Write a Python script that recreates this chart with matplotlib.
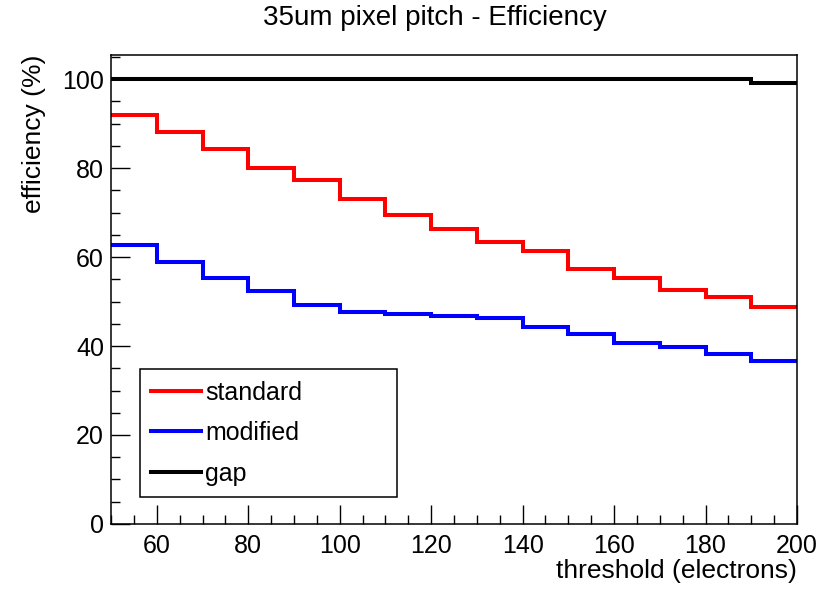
import matplotlib
matplotlib.use("Agg")
import matplotlib.pyplot as plt
import numpy as np
from matplotlib.ticker import MultipleLocator

plt.rcParams["font.family"] = ["Liberation Sans", "DejaVu Sans"]

# threshold bins (electrons)
bin_edges = np.arange(50, 201, 10)

# efficiency (%) per bin
eff_standard = [91.9, 88.0, 84.3, 79.9, 77.4, 73.0, 69.4, 66.2,
                63.4, 61.3, 57.2, 55.2, 52.7, 51.1, 48.8]
eff_modified = [62.8, 58.8, 55.3, 52.3, 49.2, 47.7, 47.1, 46.8,
                46.3, 44.2, 42.6, 40.6, 39.7, 38.1, 36.6]
eff_gap = [100.0, 100.0, 100.0, 100.0, 100.0, 100.0, 100.0, 100.0,
           100.0, 100.0, 100.0, 100.0, 100.0, 100.0, 99.0]

labels = ["standard", "modified", "gap"]
colors = ["#ff0000", "#0000ff", "#000000"]

fig = plt.figure(figsize=(8.33, 5.91), dpi=100)
ax = fig.add_axes([0.1333, 0.1134, 0.8235, 0.7935])

handles = []
for vals, lab, col in zip([eff_standard, eff_modified, eff_gap], labels, colors):
    ax.stairs(vals, bin_edges, color=col, linewidth=2.9, label=lab, baseline=None)
    handles.append(plt.Line2D([], [], color=col, linewidth=2.9))

ax.set_xlim(50, 200)
ax.set_ylim(0, 105.4)

ax.xaxis.set_major_locator(MultipleLocator(20))
ax.xaxis.set_minor_locator(MultipleLocator(5))
ax.yaxis.set_major_locator(MultipleLocator(20))
ax.yaxis.set_minor_locator(MultipleLocator(5))
ax.set_xticks(np.arange(60, 201, 20))

ax.tick_params(which="both", direction="in", top=False, right=False, width=1.0,
               labelsize=18)
ax.tick_params(which="major", length=14)
ax.tick_params(which="minor", length=6.5)
ax.tick_params(axis="x", pad=7)
ax.tick_params(axis="y", pad=5)

for sp in ax.spines.values():
    sp.set_linewidth(1.1)

ax.set_xlabel("threshold (electrons)", fontsize=19, ha="right", x=1.0, labelpad=1)
ax.set_ylabel("efficiency (%)", fontsize=19, ha="right", y=1.0, labelpad=12)

fig.text(0.522, 0.969, "35um pixel pitch - Efficiency", fontsize=20,
         ha="center", va="center")

leg = ax.legend(handles, labels, loc="lower left",
                bbox_to_anchor=(0.0423, 0.0576, 0.375, 0.27), mode="expand",
                fancybox=False, edgecolor="black", framealpha=1,
                fontsize=18, handlelength=2.0, handletextpad=0.15,
                labelspacing=0.66, borderpad=0.45, borderaxespad=0)
leg.get_frame().set_linewidth(1.1)

fig.savefig("out.png", dpi=100)
